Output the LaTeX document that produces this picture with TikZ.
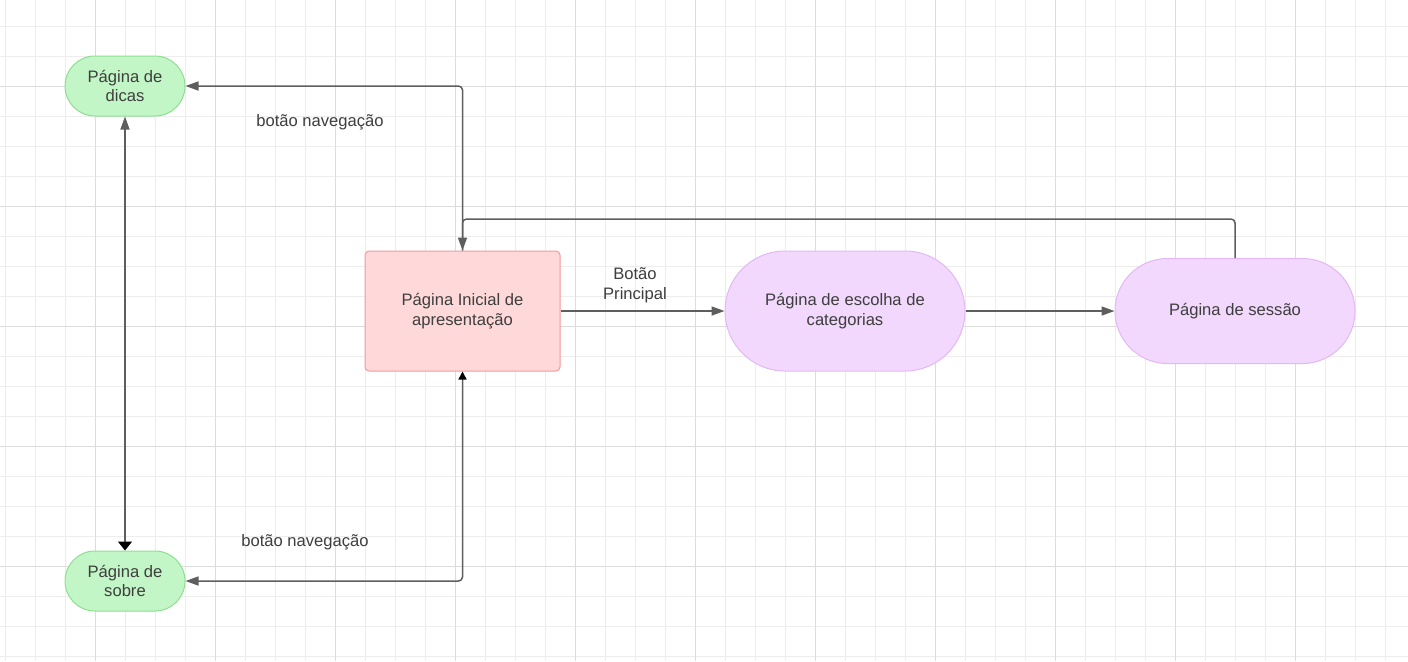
\documentclass[tikz,border=0pt]{standalone}
\usepackage{fontspec}
\setmainfont{Liberation Sans}
\usetikzlibrary{arrows.meta}
\usetikzlibrary{calc}

\definecolor{linegray}{HTML}{5E5E5E}
\definecolor{textgray}{HTML}{3E3E3E}
\definecolor{greenfill}{HTML}{C3F6C6}
\definecolor{greenline}{HTML}{8EDE92}
\definecolor{pinkfill}{HTML}{FFD9D9}
\definecolor{pinkline}{HTML}{F39A9A}
\definecolor{lilacfill}{HTML}{F2D8FC}
\definecolor{lilacline}{HTML}{E3B8F4}
\definecolor{gridminor}{HTML}{EDEDED}
\definecolor{gridmajor}{HTML}{DCDCDC}

\tikzset{
  page/.style={draw, line width=0.5pt, text=textgray, align=center,
    font=\fontsize{8.3}{9.8}\selectfont, inner sep=0pt},
  smallpage/.style={page, fill=greenfill, draw=greenline,
    minimum width=60pt, minimum height=30pt, rounded corners=15pt},
  startpage/.style={page, fill=pinkfill, draw=pinkline,
    minimum width=97.5pt, minimum height=60pt, rounded corners=2pt},
  bigpage/.style={page, fill=lilacfill, draw=lilacline, minimum width=120pt},
  flow/.style={draw=linegray, line width=0.75pt, rounded corners=2pt,
    -{Triangle[length=6.5pt,width=4.5pt]}},
  lbl/.style={text=textgray, align=center, font=\fontsize{8.3}{9.8}\selectfont}
}

\begin{document}
\begin{tikzpicture}[x=0.5pt,y=-0.5pt]
\useasboundingbox (0,0) rectangle (1408,661);
\fill[white] (0,0) rectangle (1408,661);
% grid
\foreach \x in {5,35,...,1405} \draw[gridminor, line width=0.5pt] (\x,0) -- (\x,661);
\foreach \y in {26.5,56.5,...,660} \draw[gridminor, line width=0.5pt] (0,\y) -- (1408,\y);
\foreach \x in {95,215,...,1300} \draw[gridmajor, line width=0.5pt] (\x,0) -- (\x,661);
\foreach \y in {86.5,206.5,...,600} \draw[gridmajor, line width=0.5pt] (0,\y) -- (1408,\y);

% pages
\node[smallpage] (dicas) at (125,86) {Página de\\dicas};
\node[smallpage] (sobre) at (125,581) {Página de\\sobre};
\node[startpage] (inicial) at (462.5,311) {Página Inicial de\\apresentação};
\node[bigpage, minimum height=60pt, rounded corners=30pt] (escolha) at (845,311)
  {Página de escolha de\\categorias};
\node[bigpage, minimum height=52.5pt, rounded corners=26.25pt] (sessao) at (1235,311)
  {Página de sessão};

% labels
\node[lbl] (navtop) at (320,122) {botão navegação};
\node[lbl] (navbot) at (305,542) {botão navegação};
\node[lbl] (principal) at (635,285) {Botão\\Principal};

% connectors
\draw[flow] (inicial.north) |- (dicas.east);
\draw[flow, {Triangle[length=4pt,width=4pt,black]}-{Triangle[length=6.5pt,width=4.5pt]}]
  (inicial.south) |- (sobre.east);
\draw[flow, {Triangle[length=4.5pt,width=7pt,black]}-{Triangle[length=6.5pt,width=4.5pt]}]
  (sobre.north) -- (dicas.south);
\draw[flow] (inicial.east) -- (escolha.west);
\draw[flow] (escolha.east) -- (escolha.east -| sessao.west);
\draw[flow] (sessao.north) -- ++(0,-39) -| (inicial.north);
\end{tikzpicture}
\end{document}
